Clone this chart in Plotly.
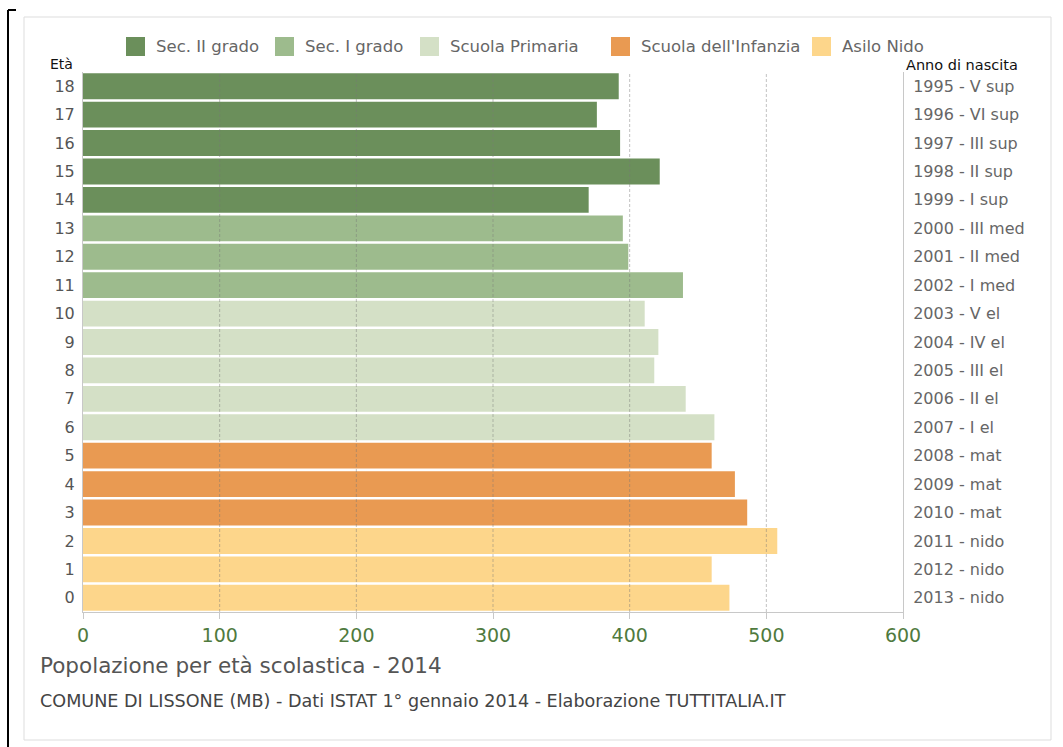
import plotly.graph_objects as go

# ---- data ----
ages = list(range(0, 19))
values = [473, 460, 508, 486, 477, 460, 462, 441, 418, 421, 411, 439, 399, 395, 370, 422, 393, 376, 392]
birth_labels = ["2013 - nido", "2012 - nido", "2011 - nido", "2010 - mat", "2009 - mat", "2008 - mat",
                "2007 - I el", "2006 - II el", "2005 - III el", "2004 - IV el", "2003 - V el",
                "2002 - I med", "2001 - II med", "2000 - III med", "1999 - I sup", "1998 - II sup",
                "1997 - III sup", "1996 - VI sup", "1995 - V sup"]
groups = ["Sec. II grado", "Sec. I grado", "Scuola Primaria", "Scuola dell'Infanzia", "Asilo Nido"]
group_ages = {
    "Sec. II grado": [14, 15, 16, 17, 18],
    "Sec. I grado": [11, 12, 13],
    "Scuola Primaria": [6, 7, 8, 9, 10],
    "Scuola dell'Infanzia": [3, 4, 5],
    "Asilo Nido": [0, 1, 2],
}
colors = {
    "Sec. II grado": "#6b8f5b",
    "Sec. I grado": "#9dbb8d",
    "Scuola Primaria": "#d4e0c6",
    "Scuola dell'Infanzia": "#e99a52",
    "Asilo Nido": "#fdd68b",
}
x_ticks = [0, 100, 200, 300, 400, 500, 600]
title = "Popolazione per età scolastica - 2014"
subtitle = "COMUNE DI LISSONE (MB) - Dati ISTAT 1° gennaio 2014 - Elaborazione TUTTITALIA.IT"

W, H = 1063, 747
ML, MR, MT, MB = 83, 160, 72, 135
PW, PH = W - ML - MR, H - MT - MB


def px(x):
    return (x - ML) / PW


def py(y):
    return (H - MB - y) / PH


FONT = "DejaVu Sans, Liberation Sans, Arial, sans-serif"

fig = go.Figure()
for g in groups:
    a = group_ages[g]
    fig.add_trace(go.Bar(
        y=a, x=[values[i] for i in a], orientation="h",
        marker=dict(color=colors[g], line=dict(width=0)),
        name=g, showlegend=False,
    ))

# invisible trace for right axis
fig.add_trace(go.Scatter(x=values, y=ages, yaxis="y2", mode="markers",
                         marker=dict(opacity=0), showlegend=False, hoverinfo="skip"))

shapes = []
# grid lines above bars
for t in x_ticks[1:-1]:
    shapes.append(dict(type="line", xref="x", yref="paper", x0=t, x1=t, y0=0, y1=1,
                       line=dict(color="rgba(120,120,120,0.45)", width=1, dash="3px,2px"), layer="above"))
# outer frame
shapes.append(dict(type="rect", xref="paper", yref="paper", x0=px(24), x1=px(1051), y0=py(17), y1=py(740),
                   line=dict(color="#dddddd", width=1), layer="below"))
# black bracket at left edge
shapes.append(dict(type="line", xref="paper", yref="paper", x0=px(8), x1=px(8), y0=py(10), y1=py(747),
                   line=dict(color="black", width=2)))
shapes.append(dict(type="line", xref="paper", yref="paper", x0=px(8), x1=px(16), y0=py(10), y1=py(10),
                   line=dict(color="black", width=2)))

annotations = []
# manual legend
leg_x = [126, 275, 420, 611, 812]
for g, lx in zip(groups, leg_x):
    shapes.append(dict(type="rect", xref="paper", yref="paper", x0=px(lx), x1=px(lx + 19),
                       y0=py(37), y1=py(56), fillcolor=colors[g], line=dict(width=0)))
    annotations.append(dict(text=g, xref="paper", yref="paper", x=px(lx + 28), y=py(46),
                            xanchor="left", yanchor="middle", showarrow=False,
                            font=dict(family=FONT, size=16.5, color="#666666")))

annotations += [
    dict(text="Età", xref="paper", yref="paper", x=px(48), y=py(64), xanchor="left", yanchor="middle",
         showarrow=False, font=dict(family=FONT, size=14, color="#111111")),
    dict(text="Anno di nascita", xref="paper", yref="paper", x=px(904), y=py(65), xanchor="left",
         yanchor="middle", showarrow=False, font=dict(family=FONT, size=14.5, color="#111111")),
    dict(text=title, xref="paper", yref="paper", x=px(38), y=py(665), xanchor="left", yanchor="middle",
         showarrow=False, font=dict(family=FONT, size=21.5, color="#555555")),
    dict(text=subtitle, xref="paper", yref="paper", x=px(38), y=py(701), xanchor="left", yanchor="middle",
         showarrow=False, font=dict(family=FONT, size=17.6, color="#444444")),
]

fig.update_layout(
    width=W, height=H,
    margin=dict(l=ML, r=MR, t=MT, b=MB),
    paper_bgcolor="white", plot_bgcolor="white",
    barmode="overlay", bargap=0.09,
    shapes=shapes, annotations=annotations,
    font=dict(family=FONT),
    xaxis=dict(range=[0, 600], tickvals=x_ticks, showgrid=False, zeroline=False,
               showline=True, linecolor="#c8c8c8", linewidth=1,
               ticks="outside", ticklen=6, tickcolor="#c8c8c8",
               tickfont=dict(size=19, color="#4f7a3e", family=FONT)),
    yaxis=dict(range=[-0.5, 18.5], tickvals=ages, ticktext=[str(a) for a in ages],
               showgrid=False, zeroline=False, showline=True, linecolor="#c8c8c8",
               ticks="", ticklabelstandoff=4, tickfont=dict(size=16, color="#555555", family=FONT)),
    yaxis2=dict(range=[-0.5, 18.5], overlaying="y", side="right", tickvals=ages,
                ticktext=birth_labels, showgrid=False, zeroline=False, showline=True,
                linecolor="#c8c8c8", ticks="", ticklabelstandoff=6,
                tickfont=dict(size=16, color="#666666", family=FONT)),
)

fig.write_html("out.html")
